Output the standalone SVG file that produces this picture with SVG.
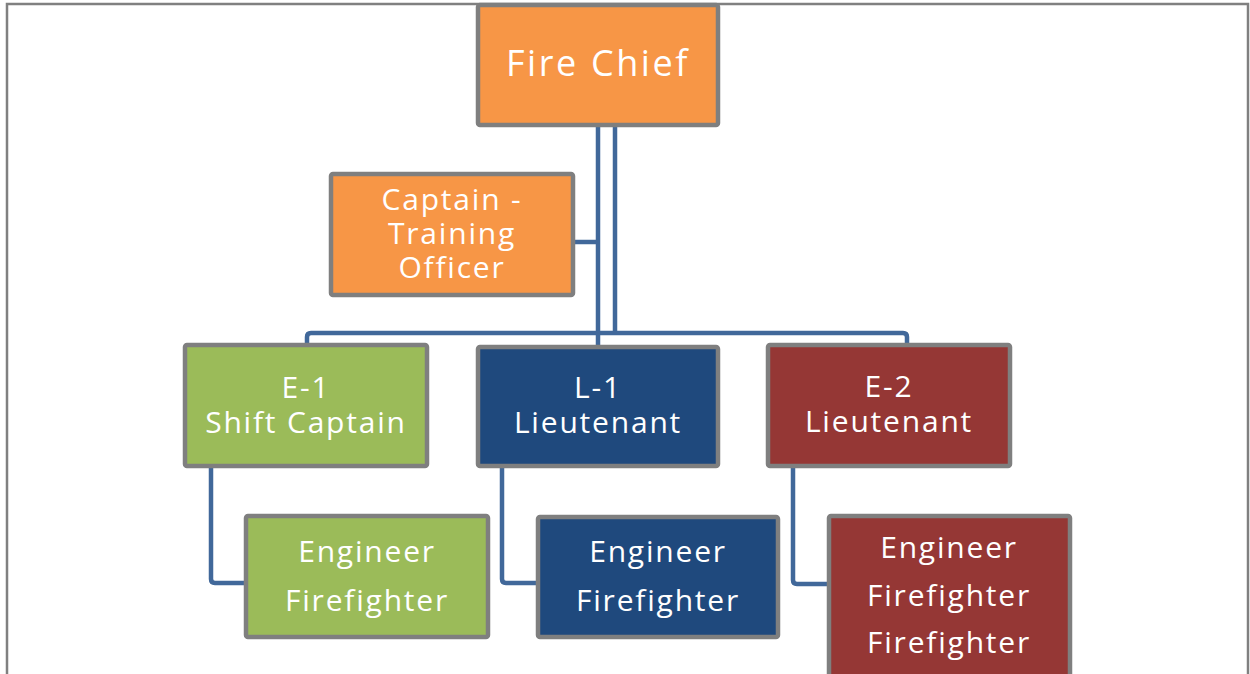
<svg xmlns="http://www.w3.org/2000/svg" width="1250" height="674" viewBox="0 0 1250 674">
<style>
.box{stroke:#7f7f7f;stroke-width:4.5;stroke-linejoin:round}
.or{fill:#f79646}.gr{fill:#9bbb59}.bl{fill:#1f497d}.rd{fill:#953735}
.t{font-family:"Open Sans","Liberation Sans",sans-serif;font-size:30px;letter-spacing:1.8px;fill:#ffffff;text-anchor:middle}
.big{font-size:36px;letter-spacing:2.6px}
.c{fill:none;stroke:#41689a;stroke-width:4.5;stroke-linejoin:round}
</style>
<rect x="0" y="0" width="1250" height="674" fill="#ffffff"/>
<rect x="7" y="4" width="1241" height="700" fill="#ffffff" stroke="#808080" stroke-width="2.5"/>
<g id="connectors">
<path class="c" d="M598,127 V347"/>
<path class="c" d="M575,242 H598"/>
<path class="c" d="M615,127 V333"/>
<path class="c" d="M307,347 V337 Q307,333 311,333 H903 Q907,333 907,337 V347"/>
<path class="c" d="M211,468 V579 Q211,583 215,583 H246"/>
<path class="c" d="M502,468 V579 Q502,583 506,583 H538"/>
<path class="c" d="M793,468 V580 Q793,584 797,584 H829"/>
</g>
<g id="fire-chief">
<rect class="box or" x="478" y="5" width="240" height="120" rx="2"/>
<text class="t big" x="598" y="76">Fire Chief</text>
</g>
<g id="captain-training">
<rect class="box or" x="331" y="174" width="242" height="121" rx="2"/>
<text class="t" x="452" y="210">Captain -</text>
<text class="t" x="452" y="244">Training</text>
<text class="t" x="452" y="278">Officer</text>
</g>
<g id="e1">
<rect class="box gr" x="185" y="345" width="242" height="121" rx="2"/>
<text class="t" x="306" y="398">E-1</text>
<text class="t" x="306" y="433">Shift Captain</text>
</g>
<g id="l1">
<rect class="box bl" x="478" y="347" width="240" height="119" rx="2"/>
<text class="t" x="598" y="398">L-1</text>
<text class="t" x="598" y="433">Lieutenant</text>
</g>
<g id="e2">
<rect class="box rd" x="768" y="345" width="242" height="121" rx="2"/>
<text class="t" x="889" y="397">E-2</text>
<text class="t" x="889" y="432">Lieutenant</text>
</g>
<g id="e1-crew">
<rect class="box gr" x="246" y="516" width="242" height="121" rx="2"/>
<text class="t" x="367" y="562">Engineer</text>
<text class="t" x="367" y="611">Firefighter</text>
</g>
<g id="l1-crew">
<rect class="box bl" x="538" y="517" width="240" height="120" rx="2"/>
<text class="t" x="658" y="562">Engineer</text>
<text class="t" x="658" y="611">Firefighter</text>
</g>
<g id="e2-crew">
<rect class="box rd" x="829" y="516" width="241" height="180" rx="2"/>
<text class="t" x="949" y="558">Engineer</text>
<text class="t" x="949" y="606">Firefighter</text>
<text class="t" x="949" y="653">Firefighter</text>
</g>
</svg>
